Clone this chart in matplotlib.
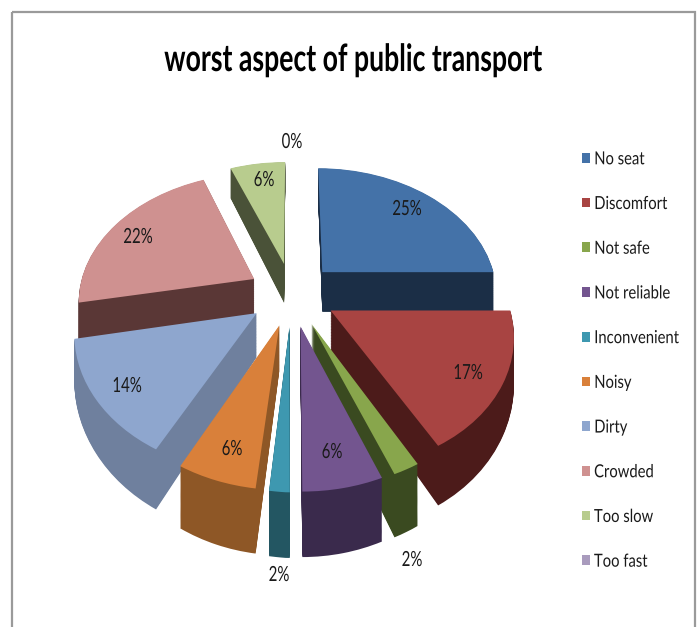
import numpy as np
import matplotlib
matplotlib.use("Agg")
import matplotlib.pyplot as plt
from matplotlib.patches import Patch, Rectangle
from matplotlib.patheffects import AbstractPathEffect
from matplotlib.transforms import Affine2D, Transform

categories = ["No seat", "Discomfort", "Not safe", "Not reliable", "Inconvenient",
              "Noisy", "Dirty", "Crowded", "Too slow", "Too fast"]
values = [25, 17, 2, 6, 2, 6, 14, 22, 6, 0]
pct_labels = ["25%", "17%", "2%", "6%", "2%", "6%", "14%", "22%", "6%", "0%"]

top_colors = ["#4472A8", "#A84442", "#88A64C", "#73558F", "#3E98B0",
              "#D9803A", "#8EA6CE", "#CF9190", "#B8CC8E", "#A99BBD"]
side_colors = ["#1B2E46", "#4C1B1A", "#3A4A20", "#3A2A4C", "#235662",
               "#8E5726", "#6F809E", "#5A3736", "#4A5238", "#4A4058"]
label_pos = [(407, 209), (468, 373), (412, 560), (332, 452), (279, 575),
             (232, 449), (127, 386), (138, 237), (264, 180), (292, 142)]

FONT = ["Lato", "DejaVu Sans"]
CX, CY, R, A, P, DEPTH = 292, 294, 176, 127, 0.16, 42
SHIFT = 8
EXPLODE = 0.25
N_LAYERS = 60


class Persp(Transform):
    input_dims = output_dims = 2
    is_separable = False
    has_inverse = False

    def __init__(self, z):
        super().__init__()
        self.z = z

    def transform_non_affine(self, xy):
        xy = np.asarray(xy, float)
        u, v = xy[:, 0], xy[:, 1]
        w = 1 + P * v
        lean = SHIFT * np.clip(-v, 0, 1) * np.clip(-u / 0.1, 0, 1)
        return np.column_stack((CX + R * u / w + lean,
                                CY - A * v / w + DEPTH * self.z / w ** 2))


class Squeeze(AbstractPathEffect):
    """Narrow a text horizontally, as the stretched picture shows it."""

    def __init__(self, sx, anchor="center"):
        super().__init__()
        self.sx, self.anchor = sx, anchor

    def draw_path(self, renderer, gc, tpath, affine, rgbFace=None):
        box = tpath.get_extents(affine)
        x0 = box.x0 if self.anchor == "left" else 0.5 * (box.x0 + box.x1)
        squeezed = affine + Affine2D().translate(-x0, 0).scale(self.sx, 1).translate(x0, 0)
        renderer.draw_path(gc, tpath, squeezed, rgbFace)


fig = plt.figure(figsize=(6.97, 6.27), dpi=100)
ax = fig.add_axes([0, 0, 1, 1])

# Paint slices from the back to the front
cum = np.cumsum([0] + values)[:-1] + np.array(values) / 2
mid = np.deg2rad(cum / sum(values) * 360)
rank = np.argsort(np.argsort(-np.cos(mid)))

for k, z in enumerate(np.linspace(1, 0, N_LAYERS)):
    colors = top_colors if k == N_LAYERS - 1 else side_colors
    wedges, _ = ax.pie(values, explode=[EXPLODE] * len(values), colors=colors,
                       startangle=90, counterclock=False, radius=1,
                       normalize=True, wedgeprops={"linewidth": 0})
    tr = Persp(z) + ax.transData
    for i, wd in enumerate(wedges):
        wd.set_transform(tr)
        wd.set_zorder(10 + rank[i] * 100 + k)
        wd.set_clip_on(False)

ax.set_aspect("auto")
ax.set_xlim(0, 697)
ax.set_ylim(627, 0)
ax.axis("off")

ax.add_patch(Rectangle((11.5, 11.5), 683, 640, fill=False, ec="#9A9A9A", lw=1.6, zorder=1))

title = ax.text(353, 60, "worst aspect of public transport", ha="center", va="center",
                fontsize=27, fontweight="bold", family=FONT, color="black", zorder=5000)
title.set_path_effects([Squeeze(0.71)])

for (x, y), s in zip(label_pos, pct_labels):
    t = ax.text(x, y, s, ha="center", va="center", fontsize=15, family=FONT,
                color="#1a1a1a", zorder=5000)
    t.set_path_effects([Squeeze(0.72)])

handles = [Patch(facecolor=c, label=n) for c, n in zip(top_colors, categories)]
leg = ax.legend(handles=handles, loc="center left", bbox_to_anchor=(582 / 697, 1 - 360.5 / 627),
                frameon=False, ncol=1, labelspacing=1.59, handlelength=0.44,
                handleheight=0.44, handletextpad=0.22, borderaxespad=0, borderpad=0,
                labelcolor="#1a1a1a", prop={"family": FONT, "size": 13})
leg.set_zorder(5000)
for t in leg.get_texts():
    t.set_path_effects([Squeeze(0.82, anchor="left")])

fig.savefig("out.png", dpi=100)
